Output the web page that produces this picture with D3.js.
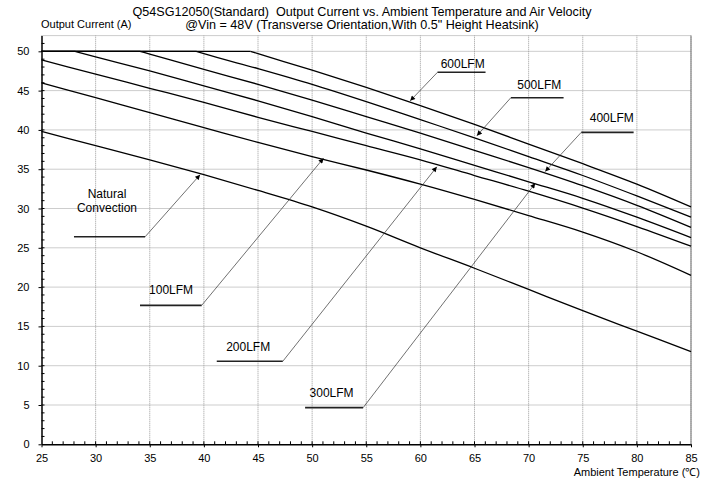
<!DOCTYPE html>
<html>
<head>
<meta charset="utf-8">
<script src="https://cdn.jsdelivr.net/npm/d3@7"></script>
<style>
  body { margin: 0; background: #fff; }
  svg { display: block; font-family: "Liberation Sans", Arial, sans-serif; }
</style>
</head>
<body>
<svg id="chart" width="717" height="479"></svg>
<script>
// derating curves, [ambient temp (C), output current (A)]
const natural = [[25,39.8],[30,38.0],[35,36.2],[40,34.3],[45,32.3],[50,30.2],[55,27.75],[60,25.0],[65,22.4],[70,19.7],[75,17.0],[80,14.4],[85,11.8]];
const lfm100 = [[25,46.0],[30,44.1],[35,42.2],[40,40.3],[45,38.4],[50,36.6],[55,34.9],[60,33.1],[65,31.15],[70,29.1],[75,27.0],[80,24.5],[85,21.5]];
const lfm200 = [[25,48.9],[30,47.1],[35,45.3],[40,43.5],[45,41.6],[50,39.8],[55,38.0],[60,36.2],[65,34.2],[70,32.2],[75,30.05],[80,27.7],[85,25.2]];
const lfm300 = [[25,50],[28.1,50],[30,49.3],[35,47.5],[40,45.6],[45,43.7],[50,41.7],[55,39.6],[60,37.6],[65,35.5],[70,33.4],[75,31.3],[80,28.9],[85,26.3]];
const lfm400 = [[25,50],[34.1,50],[35,49.65],[40,47.7],[45,45.8],[50,43.8],[55,41.7],[60,39.6],[65,37.4],[70,35.2],[75,32.9],[80,30.4],[85,27.6]];
const lfm500 = [[25,50],[39.3,50],[40,49.7],[45,47.8],[50,45.8],[55,43.6],[60,41.3],[65,39.0],[70,36.6],[75,34.2],[80,31.6],[85,28.9]];
const lfm600 = [[25,50],[44.3,50],[45,49.7],[50,47.6],[55,45.4],[60,43.1],[65,40.7],[70,38.2],[75,35.7],[80,33.1],[85,30.2]];

const xTicks = [25,30,35,40,45,50,55,60,65,70,75,80,85];
const yTicks = [0,5,10,15,20,25,30,35,40,45,50];

// callouts: label lines, label centre, underline (x1,x2,y), arrow tip
const callouts = [
  {text: ["Natural", "Convection"], tx: 31.05, ty: 30.1, ux: [28.0, 34.57], uy: 26.4, tip: [39.65, 34.3]},
  {text: ["100LFM"], tx: 36.97, ty: 19.6, ux: [34.1, 39.8], uy: 17.68, tip: [51.05, 36.4]},
  {text: ["200LFM"], tx: 44.09, ty: 12.4, ux: [41.19, 47.29], uy: 10.56, tip: [61.52, 35.3]},
  {text: ["300LFM"], tx: 51.80, ty: 6.56, ux: [49.35, 54.71], uy: 4.66, tip: [70.61, 33.2]},
  {text: ["400LFM"], tx: 77.68, ty: 41.55, ux: [79.70, 74.86], uy: 39.69, tip: [71.53, 34.7]},
  {text: ["500LFM"], tx: 70.98, ty: 45.8, ux: [73.23, 68.36], uy: 44.10, tip: [65.22, 39.26]},
  {text: ["600LFM"], tx: 63.91, ty: 48.47, ux: [66.02, 61.58], uy: 47.33, tip: [59.06, 43.7]}
];

const svg = d3.select("#chart");

let x = d3.scaleLinear().domain([25, 85]).range([41.5, 691]);
let y = d3.scaleLinear().domain([0, 52]).range([444.3, 35.6]);

// title
svg.append("text").attr("x", 362).attr("y", 16).attr("text-anchor", "middle")
  .attr("font-size", 12.6).style("white-space", "pre")
  .text("Q54SG12050(Standard)  Output Current vs. Ambient Temperature and Air Velocity");
svg.append("text").attr("x", 362).attr("y", 29).attr("text-anchor", "middle")
  .attr("font-size", 12.6).text("@Vin = 48V (Transverse Orientation,With 0.5\" Height Heatsink)");
svg.append("text").attr("x", 41).attr("y", 28).attr("font-size", 11).text("Output Current (A)");

// grid
let grid = svg.append("g").attr("stroke", "#9a9a9a").attr("stroke-width", 1).attr("stroke-dasharray", "1,1");
xTicks.slice(1).forEach(t => {
  grid.append("line").attr("x1", x(t)).attr("x2", x(t)).attr("y1", y(0)).attr("y2", y(52));
});
yTicks.slice(1).forEach(t => {
  grid.append("line").attr("x1", x(25)).attr("x2", x(85)).attr("y1", y(t)).attr("y2", y(t));
});
grid.append("line").attr("x1", x(25)).attr("x2", x(85)).attr("y1", y(52)).attr("y2", y(52));

// axes
let xAxis = d3.axisBottom(x).tickValues(xTicks).tickSize(3).tickSizeOuter(0);
let gx = svg.append("g").attr("transform", `translate(0,${y(0)})`).call(xAxis);
gx.selectAll("text").attr("font-size", 11).attr("fill", "#000").attr("dy", "1.1em");
gx.selectAll("line").attr("stroke", "#000");
gx.select(".domain").attr("stroke", "#000").attr("stroke-width", 1.5);

let minorX = d3.range(26, 85);
svg.append("g").selectAll("line").data(minorX).join("line")
  .attr("x1", d => x(d)).attr("x2", d => x(d))
  .attr("y1", y(0)).attr("y2", y(0) - 3)
  .attr("stroke", "#000");

let yAxis = d3.axisLeft(y).tickValues(yTicks).tickSize(3).tickSizeOuter(0);
let gy = svg.append("g").attr("transform", `translate(${x(25)},0)`).call(yAxis);
gy.selectAll("text").attr("font-size", 11).attr("fill", "#000").attr("x", -12);
gy.selectAll("line").attr("stroke", "#000");
gy.select(".domain").attr("stroke", "#000").attr("stroke-width", 1.5);

let minorY = d3.range(1, 52);
svg.append("g").selectAll("line").data(minorY).join("line")
  .attr("x1", x(25)).attr("x2", x(25) + 3)
  .attr("y1", d => y(d)).attr("y2", d => y(d))
  .attr("stroke", "#000");

// right frame
svg.append("line").attr("x1", x(85)).attr("x2", x(85)).attr("y1", y(0)).attr("y2", y(52))
  .attr("stroke", "#777").attr("stroke-width", 1);

svg.append("text").attr("x", 700).attr("y", 476).attr("text-anchor", "end")
  .attr("font-size", 11).text("Ambient Temperature (\u2103)");

// curves: flat part straight, derated part smoothed
let flat = d3.line().x(d => x(d[0])).y(d => y(d[1]));
let smooth = d3.line().x(d => x(d[0])).y(d => y(d[1])).curve(d3.curveMonotoneX);
[natural, lfm100, lfm200, lfm300, lfm400, lfm500, lfm600].forEach(s => {
  let k = s.findIndex((d, i) => i > 0 && d[1] < s[i - 1][1]) - 1;
  if (k > 0) {
    svg.append("path").attr("fill", "none").attr("stroke", "#000")
      .attr("stroke-width", 1.3).attr("d", flat(s.slice(0, k + 1)));
  }
  svg.append("path").attr("fill", "none").attr("stroke", "#000")
    .attr("stroke-width", 1.3).attr("d", smooth(s.slice(Math.max(k, 0))));
});

// callouts
svg.append("defs").append("marker")
  .attr("id", "arrow").attr("viewBox", "0 0 10 10")
  .attr("refX", 10).attr("refY", 5)
  .attr("markerWidth", 7).attr("markerHeight", 5)
  .attr("markerUnits", "userSpaceOnUse")
  .attr("orient", "auto")
  .append("path").attr("d", "M0,0L10,5L0,10z").attr("fill", "#000");

callouts.forEach(c => {
  svg.append("line")
    .attr("x1", x(c.ux[0])).attr("x2", x(c.ux[1]))
    .attr("y1", y(c.uy)).attr("y2", y(c.uy))
    .attr("stroke", "#222").attr("stroke-width", 1.6);
  svg.append("line")
    .attr("x1", x(c.ux[1])).attr("y1", y(c.uy))
    .attr("x2", x(c.tip[0])).attr("y2", y(c.tip[1]))
    .attr("stroke", "#333").attr("stroke-width", 0.7)
    .attr("marker-end", "url(#arrow)");
  let n = c.text.length;
  c.text.forEach((t, i) => {
    svg.append("text").attr("x", x(c.tx)).attr("y", y(c.ty) + (i - (n - 1)) * 14)
      .attr("dy", "0.35em").attr("text-anchor", "middle")
      .attr("font-size", 12).text(t);
  });
});
</script>
</body>
</html>
